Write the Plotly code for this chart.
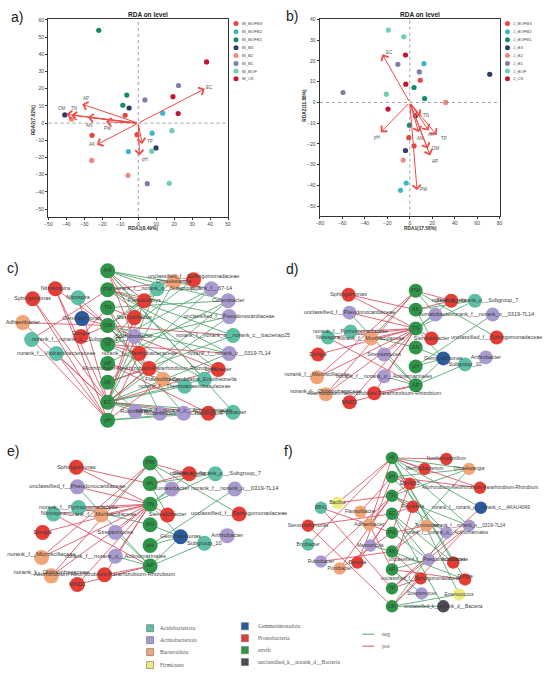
import plotly.graph_objects as go

W, H = 550, 680

# ---------------- RDA data ----------------
groups = ["BOFB3", "BOFB2", "BOFB1", "B3", "B2", "B1", "BOF", "CK"]
group_colors = ["#e8463e", "#3cb6c9", "#138a6d", "#2d3a6a", "#f08a80", "#7d80a8", "#6dcfb1", "#c3162c"]

# panel a (M_ samples)
a_group = ["BOFB3", "BOFB3", "BOFB3", "BOFB2", "BOFB2", "BOFB2", "BOFB1", "BOFB1", "BOFB1",
           "B3", "B3", "B3", "B2", "B2", "B2", "B1", "B1", "B1", "BOF", "BOF", "BOF", "CK", "CK", "CK"]
a_x = [-7.3, -0.7, -25.7, 13.6, 7.7, -5.5, -22.0, -6.4, -8.6,
       -5.1, -40.9, 9.9, -37.2, -25.9, -5.7, 22.4, 3.7, 5.0, 18.7, 7.5, 17.2, 38.0, 19.3, 22.2]
a_y = [4.6, -6.7, -7.1, 5.8, -5.8, -16.5, 54.0, 16.3, 10.4,
       8.8, 4.8, -14.4, 2.3, -21.7, -30.4, 21.9, 13.5, -35.2, -4.4, -16.3, -35.0, 35.6, 15.4, 5.6]
a_env = ["EC", "AP", "OM", "TN", "AN", "PW", "AK", "TP", "pH"]
a_env_x = [37.0, -31.2, -40.0, -37.2, -28.0, -18.0, -23.0, 2.2, 0.7]
a_env_y = [20.0, 11.0, 5.2, 4.6, 3.3, 0.8, -12.5, -12.1, -18.8]

# panel b (J_ samples)
b_group = ["BOFB3", "BOFB3", "BOFB3", "BOFB2", "BOFB2", "BOFB2", "BOFB1", "BOFB1", "BOFB1",
           "B3", "B3", "B3", "B2", "B2", "B1", "B1", "B1", "BOF", "BOF", "BOF", "CK", "CK", "CK"]
b_x = [9.4, -0.9, 3.8, 12.6, -3.2, -8.2, 3.8, 13.2, -0.3,
       71.2, 5.0, -3.8, 32.0, -5.9, -10.6, 8.5, -59.4, -19.1, -5.3, -20.9, -3.8, -3.5, -19.4]
b_y = [10.7, -17.0, -21.0, 18.7, -38.9, -42.4, 7.2, 1.9, -11.0,
       13.6, -6.4, -23.2, 0.0, -27.8, 18.4, 14.7, 4.8, 34.9, 31.7, 4.0, 22.9, 8.8, -3.2]
b_env = ["EC", "pH", "TN", "AN", "AK", "TP", "OM", "AP", "PW"]
b_env_x = [-24.4, -25.9, 9.4, 8.0, 16.8, 24.0, 15.9, 18.2, 6.5]
b_env_y = [23.2, -14.4, -6.7, -14.4, -13.6, -15.7, -22.4, -25.6, -42.4]

# label nudges for arrow names (pixels)
a_shift = {"EC": (5, 1), "AP": (4, 6), "OM": (-4, 6), "TN": (3, 7), "AN": (1, -8),
           "PW": (2, -7), "AK": (-5, 0), "TP": (8, 2), "pH": (5, -4)}
b_shift = {"EC": (7, 2), "pH": (-4, -5), "TN": (6, 1), "AN": (1, -6), "AK": (2, -4),
           "TP": (7, -4), "OM": (8, 0), "AP": (5, -6), "PW": (7, 1)}

# ---------------- network data ----------------
phyla = ["Acidobacteriota", "Actinobacteriota", "Bacteroidota", "Firmicutes",
         "Gemmatimonadota", "Proteobacteria", "envfit", "unclassified_k__norank_d__Bacteria"]
phyla_colors = ["#5dbfa5", "#a899cf", "#f2a477", "#efeb7e", "#2b5a9e", "#e43d35", "#2f9548", "#4b4b55"]
P = dict(zip(["Aci", "Act", "Bac", "Fir", "Gem", "Pro", "env", "unc"], phyla_colors))

# network c
c_names = ["AN", "PW", "TN", "OM", "TP", "AP", "AK", "EC", "pH",
           "Nitrosospira", "Sphingomonas", "Nitrospira", "Gemmatimonas", "Adhaeribacter", "Dongia",
           "norank_f__norank_o__Subgroup_17", "norank_f__Vicinamibacteraceae",
           "norank_f__norank_o__Subgroup_7", "Ohtaekwangia", "unclassified_f__Sphingomonadaceae",
           "norank_f__67-14", "Pseudolabrys", "Conexibacter", "Steroidobacter",
           "unclassified_f__Pseudonocardiaceae", "Solirubrobacter",
           "norank_f__norank_o__norank_c__bacteriap25", "norank_f__Xanthobacteraceae",
           "norank_f__norank_o__0319-7L14", "Allorhizobium-Neorhizobium-Pararhizobium-Rhizobium",
           "Lysobacter", "Flavisolibacter", "Candidatus_Entotheonella", "norank_f__Thermoanaerobaculaceae",
           "Rubrobacter", "Nocardioides", "norank_f__norank_o__Actinomarinales", "Haliangium", "Bryobacter"]
c_phylum = ["env"] * 9 + ["Pro", "Pro", "Aci", "Gem", "Bac", "Pro", "Aci", "Aci",
                          "Aci", "Bac", "Pro", "Act", "Pro", "Act", "Pro", "Act", "Act", "Aci", "Pro",
                          "Act", "Pro", "Pro", "Bac", "Aci", "Aci", "Act", "Act", "Act", "Pro", "Aci"]
c_x = [105] * 9 + [52, 29, 75, 79, 19, 78, 28, 53,
                   155, 172, 192, 210, 142, 227, 132, 228, 132, 232, 137, 228, 147, 217, 161, 203,
                   183, 133, 158, 182, 207, 232]
c_y = [269, 288, 306, 324, 343, 362, 381, 401, 419,
       287, 297, 296, 317, 321, 335, 338, 352,
       287, 280, 278, 287, 299, 299, 316, 315, 335, 334, 352, 352, 367, 368, 378, 378,
       385, 410, 412, 412, 412, 411]
c_edges = [
    (10, 7, 1), (10, 8, 1), (9, 3, 1), (9, 7, 1), (11, 3, 1), (13, 3, 1), (15, 1, 1), (15, 8, 1),
    (12, 3, 1), (14, 3, 1), (14, 2, 1), (16, 7, 1), (16, 8, 1), (11, 7, 1), (13, 7, 1), (9, 8, 1),
    (0, 20, -1), (0, 22, -1), (0, 32, -1), (0, 38, -1), (0, 21, 1), (0, 23, 1), (0, 27, 1), (0, 17, -1),
    (1, 24, -1), (1, 30, -1), (1, 26, -1), (1, 19, 1), (1, 21, 1), (1, 28, -1),
    (2, 22, -1), (2, 23, 1), (2, 29, 1), (2, 35, -1),
    (3, 18, -1), (3, 32, -1), (3, 28, -1), (3, 26, 1), (3, 30, 1), (3, 29, 1), (3, 17, -1), (3, 36, -1),
    (4, 17, -1), (4, 20, -1), (4, 19, -1), (4, 24, -1), (4, 28, 1), (4, 27, 1), (4, 33, -1),
    (5, 22, -1), (5, 31, 1), (5, 37, 1),
    (6, 26, -1), (6, 20, -1), (6, 29, 1), (6, 34, -1),
    (7, 17, -1), (7, 18, -1), (7, 22, -1), (7, 24, -1), (7, 28, -1), (7, 33, -1), (7, 38, -1),
    (7, 35, -1), (7, 21, 1), (7, 23, 1), (7, 29, 1), (7, 30, 1), (7, 37, 1), (7, 32, -1),
    (7, 36, -1), (7, 34, -1),
    (8, 37, -1), (8, 36, -1), (8, 27, 1), (8, 31, 1),
]
c_label_pos = {"Dongia": "top center", "unclassified_f__Sphingomonadaceae": "top center",
               "norank_f__norank_o__Actinomarinales": "top center",
               "norank_f__norank_o__Subgroup_17": "middle right"}

# network d / e (same network, drawn twice)
d_names = ["PW", "AK", "TN", "AN", "pH", "AP",
           "Sphingomonas", "unclassified_f__Pseudonocardiaceae", "norank_f__Pyrinomonadaceae",
           "Nitrospira", "norank_f__Muribaculaceae", "Dongia", "Streptomyces",
           "norank_f__Microscillaceae", "norank_f__norank_o__Actinomarinales",
           "norank_f__Chitinophagaceae", "Allorhizobium-Neorhizobium-Pararhizobium-Rhizobium", "MND1",
           "Skermanella", "norank_f__norank_o__Subgroup_7", "Ilumatobacter",
           "norank_f__norank_o__0319-7L14", "Steroidobacter", "unclassified_f__Sphingomonadaceae",
           "Gemmatimonas", "Arthrobacter", "Subgroup_10"]
d_phylum = ["env"] * 6 + ["Pro", "Act", "Aci", "Aci", "Bac", "Pro", "Act", "Bac", "Act", "Bac",
                          "Pro", "Pro", "Pro", "Aci", "Act", "Act", "Pro", "Pro", "Gem", "Act", "Aci"]
d_x = [417] * 6 + [349, 350, 351, 328, 372, 318, 385, 317, 385, 326, 375, 350,
                   453, 477, 437, 495, 433, 499, 445, 488, 467]
d_y = [289, 308, 327, 346, 365, 384,
       293, 311, 330, 336, 337, 353, 353, 376, 375, 393, 392, 401,
       299, 299, 313, 313, 337, 336, 357, 356, 363]
d_edges = [
    (6, 2, 1), (6, 1, 1), (7, 2, 1), (8, 2, 1), (9, 2, 1), (9, 5, 1), (10, 2, 1), (11, 2, 1),
    (12, 2, 1), (13, 0, 1), (13, 2, 1), (15, 0, 1), (15, 2, 1), (16, 2, 1), (16, 5, 1), (17, 5, 1),
    (17, 2, 1), (14, 2, 1),
    (7, 5, -1), (10, 0, -1), (12, 5, -1), (14, 5, -1), (8, 3, -1),
    (0, 23, -1), (1, 19, -1), (2, 18, -1), (2, 19, -1), (2, 20, -1), (2, 22, 1), (0, 20, -1),
    (1, 22, -1), (4, 21, -1), (2, 24, -1), (3, 24, -1), (4, 24, -1), (5, 24, -1), (5, 26, -1),
    (1, 18, 1), (0, 18, 1),
]
d_label_pos = {"norank_f__Microscillaceae": "top center", "norank_f__Chitinophagaceae": "top center"}

# network f
f_names = ["AK", "pH", "TN", "EC", "PW", "AN", "AP", "TP", "OM",
           "Noviherbaspirillum", "Methylobacterium", "Ohtaekwangia", "Ellin6055",
           "Allorhizobium-Neorhizobium-Pararhizobium-Rhizobium", "Reyranella",
           "norank_f__norank_o__norank_c__AKAU4049", "Terrimonas", "norank_f__norank_o__0319-7L14",
           "norank_f__norank_o__Actinomarinales", "unclassified_f__Pseudonocardiaceae", "Acidibacter",
           "unclassified_f__Sphingomonadaceae", "Dongia", "Streptomyces", "Enterococcus",
           "unclassified_k__norank_d__Bacteria",
           "Bacillus", "RB41", "Flavisolibacter", "Stenotrophomonas", "Adhaeribacter", "Bryobacter",
           "Marmoricola", "Rubrobacter", "Devosia", "Pontibacter"]
f_phylum = ["env"] * 9 + ["Pro", "Pro", "Bac", "Pro", "Pro", "Pro", "Gem", "Bac", "Act", "Act",
                          "Act", "Pro", "Pro", "Pro", "Act", "Fir", "unc",
                          "Fir", "Aci", "Bac", "Pro", "Bac", "Aci", "Act", "Act", "Pro", "Bac"]
f_x = [393] * 9 + [448, 426, 471, 411, 482, 414, 483, 428, 471, 448, 430, 455, 422, 467, 423, 461, 445,
                   338, 321, 361, 308, 370, 308, 371, 321, 358, 340]
f_y = [457, 476, 495, 513, 532, 551, 569, 588, 606,
       458, 468, 468, 483, 487, 506, 507, 525, 525, 532, 559, 562, 578, 579, 593, 594, 606,
       502, 507, 511, 525, 524, 544, 545, 561, 562, 568]
f_edges = [
    (31, 0, 1), (33, 2, 1), (29, 8, 1), (26, 2, 1), (27, 4, 1), (28, 1, 1), (30, 0, 1), (30, 2, 1),
    (30, 6, 1), (32, 3, 1), (34, 3, 1), (34, 1, 1), (35, 2, 1), (35, 4, 1), (33, 5, 1), (26, 0, 1),
    (32, 5, -1), (29, 3, 1), (27, 7, 1),
    (0, 9, 1), (0, 10, 1), (0, 13, 1), (0, 11, -1), (0, 15, -1), (0, 17, -1), (0, 22, -1),
    (0, 24, -1), (0, 20, -1),
    (1, 11, -1), (1, 12, 1), (1, 13, 1), (1, 18, -1),
    (2, 14, 1), (2, 12, 1), (2, 17, -1), (2, 18, -1), (2, 11, -1),
    (3, 14, 1), (3, 20, -1), (3, 25, -1), (3, 19, -1),
    (4, 16, 1), (4, 19, -1), (4, 12, 1),
    (5, 11, -1), (5, 21, 1), (5, 16, 1), (5, 22, -1),
    (6, 23, -1), (6, 22, 1), (6, 14, 1), (6, 19, -1),
    (7, 15, 1), (7, 21, 1), (7, 17, 1),
    (8, 17, 1), (8, 24, -1), (8, 25, -1), (8, 18, -1), (8, 21, 1),
]
f_label_pos = {"Acidibacter": "top center", "Dongia": "top center"}

edge_names = ["neg", "pos"]
edge_colors = ["#3d9a5b", "#d83c52"]

# ---------------- figure ----------------
fig = go.Figure()
layout = {}
annotations = []
shapes = []


def dom(px0, px1, py0, py1):
    return [px0 / W, px1 / W], [1 - py1 / H, 1 - py0 / H]


axis_style = dict(showline=True, linecolor="#333", linewidth=0.8, mirror=True, ticks="outside",
                  ticklen=2.5, tickwidth=0.7, tickcolor="#333", showgrid=False, zeroline=False,
                  tickfont=dict(size=5, color="#444"), fixedrange=True)


def rda_panel(n, box, xr, xt, yr, yt, grp, xs, ys, env, ex, ey, shift, prefix, xlab, ylab,
              title_x, xlab_x, ylab_x, ylab_y, leg_x):
    xd, yd = dom(*box)
    sfx = "" if n == 1 else str(n)
    layout["xaxis" + sfx] = dict(axis_style, domain=xd, range=xr, tickvals=xt, anchor="y" + sfx)
    layout["yaxis" + sfx] = dict(axis_style, domain=yd, range=yr, tickvals=yt, anchor="x" + sfx)
    xa, ya = "x" + sfx, "y" + sfx
    # dotted zero lines
    shapes.append(dict(type="line", xref=xa, yref=ya + " domain", x0=0, x1=0, y0=0, y1=1,
                       line=dict(color="#777", width=0.7, dash="dot")))
    shapes.append(dict(type="line", xref=xa + " domain", yref=ya, x0=0, x1=1, y0=0, y1=0,
                       line=dict(color="#777", width=0.7, dash="dot")))
    # env arrows
    for nm, tx, ty in zip(env, ex, ey):
        annotations.append(dict(x=tx, y=ty, ax=0, ay=0, xref=xa, yref=ya, axref=xa, ayref=ya,
                                showarrow=True, arrowhead=4, arrowsize=1.6, arrowwidth=1.0,
                                arrowcolor="#ef4a46", text=""))
        dx, dy = shift[nm]
        annotations.append(dict(x=tx, y=ty, xref=xa, yref=ya, text=nm, showarrow=False,
                                xanchor="center", yanchor="middle",
                                xshift=dx, yshift=dy, font=dict(size=4.5, color="#555")))
    # sample points
    for g, col in zip(groups, group_colors):
        px = [x for x, gg in zip(xs, grp) if gg == g]
        py = [y for y, gg in zip(ys, grp) if gg == g]
        fig.add_trace(go.Scatter(x=px, y=py, mode="markers", xaxis=xa, yaxis=ya,
                                 marker=dict(size=5.2, color=col, line=dict(width=0)),
                                 hoverinfo="skip"))
    annotations.append(dict(x=title_x, y=12, xref="x7", yref="y7", xanchor="center", yanchor="middle",
                            text="<b>RDA on level</b>", showarrow=False,
                            font=dict(size=6.5, color="#222")))
    annotations.append(dict(x=xlab_x, y=226, xref="x7", yref="y7", xanchor="center", yanchor="middle",
                            text="<b>" + xlab + "</b>", showarrow=False,
                            font=dict(size=4.8, color="#333")))
    annotations.append(dict(x=ylab_x, y=ylab_y, xref="x7", yref="y7", xanchor="center", yanchor="middle",
                            text="<b>" + ylab + "</b>", showarrow=False, textangle=-90,
                            font=dict(size=4.8, color="#333")))
    # legend
    leg_y = [20.7, 29, 37, 45, 52.7, 60.7, 68.3, 76]
    fig.add_trace(go.Scatter(x=[leg_x] * len(groups), y=leg_y, mode="markers", xaxis="x7", yaxis="y7",
                             marker=dict(size=5, color=group_colors), hoverinfo="skip",
                             cliponaxis=False))
    for g, yy in zip(groups, leg_y):
        annotations.append(dict(x=leg_x + 4, y=yy, xref="x7", yref="y7", text=prefix + g,
                                showarrow=False, xanchor="left", yanchor="middle",
                                font=dict(size=4.3, color="#444")))


rda_panel(1, (45, 227, 16, 215), [-50, 50], list(range(-50, 51, 10)), [-54.6, 60.6],
          list(range(-50, 61, 10)), a_group, a_x, a_y, a_env, a_env_x, a_env_y, a_shift, "M_",
          "RDA1(8.49%)", "RDA2(7.62%)", 146, 141, 30, 118, 235)
rda_panel(2, (320, 502, 16, 213.5), [-80, 80], list(range(-80, 81, 20)), [-54.6, 40.3],
          list(range(-50, 41, 10)), b_group, b_x, b_y, b_env, b_env_x, b_env_y, b_shift, "J_",
          "RDA1(17.58%)", "RDA2(11.88%)", 421, 422, 304, 103, 510)


def network(n, px_box, loc_box, names, phylum, xs, ys, edges, label_pos, node_size, font_size):
    xd = [px_box[0] / W, px_box[1] / W]
    yd = [1 - px_box[3] / H, 1 - px_box[2] / H]
    layout["xaxis%d" % n] = dict(domain=xd, range=[loc_box[0], loc_box[1]], visible=False,
                                 anchor="y%d" % n, fixedrange=True)
    layout["yaxis%d" % n] = dict(domain=yd, range=[loc_box[3], loc_box[2]], visible=False,
                                 anchor="x%d" % n, fixedrange=True)
    xa, ya = "x%d" % n, "y%d" % n
    for sign, col in zip([-1, 1], edge_colors):
        ex, ey = [], []
        for i, j, s in edges:
            if s == sign:
                ex += [xs[i], xs[j], None]
                ey += [ys[i], ys[j], None]
        fig.add_trace(go.Scatter(x=ex, y=ey, mode="lines", xaxis=xa, yaxis=ya,
                                 line=dict(color=col, width=0.85), opacity=0.9, hoverinfo="skip"))
    fig.add_trace(go.Scatter(x=xs, y=ys, mode="markers", xaxis=xa, yaxis=ya, cliponaxis=False,
                             marker=dict(size=node_size, color=[P[p] for p in phylum], line=dict(width=0)),
                             hoverinfo="skip"))
    fig.add_trace(go.Scatter(x=xs, y=ys, mode="text", xaxis=xa, yaxis=ya, cliponaxis=False, text=names,
                             textposition=[label_pos.get(nm, "middle center") for nm in names],
                             textfont=dict(size=font_size, color="#3a3a3a"), hoverinfo="skip"))


network(3, (0, 275, 248, 425), (0, 275, 248, 425), c_names, c_phylum, c_x, c_y, c_edges, c_label_pos, 15, 5.5)
network(4, (283, 535, 255, 420), (283, 535, 255, 420), d_names, d_phylum, d_x, d_y, d_edges, d_label_pos, 14, 5.5)
# panel e reuses the d layout, drawn larger further down the page
e_sx, e_sy, e_ox, e_oy = 1.1, 1.09, 148, 462
e_box = (e_ox + (283 - 417) * e_sx, e_ox + (535 - 417) * e_sx, e_oy + (255 - 289) * e_sy, e_oy + (420 - 289) * e_sy)
network(5, e_box, (283, 535, 255, 420), d_names, d_phylum, d_x, d_y, d_edges, d_label_pos, 15, 5.8)
network(6, (280, 550, 428, 615), (280, 550, 428, 615), f_names, f_phylum, f_x, f_y, f_edges, f_label_pos, 12.5, 4.8)

# overlay axes in page pixels for legends, titles and panel letters
layout["xaxis7"] = dict(domain=[0, 1], range=[0, W], visible=False, anchor="y7", fixedrange=True)
layout["yaxis7"] = dict(domain=[0, 1], range=[H, 0], visible=False, anchor="x7", fixedrange=True)

for lab, lx, ly in zip(["a)", "b)", "c)", "d)", "e)", "f)"], [13, 292, 9, 292, 9, 288], [14, 13, 266, 267, 450, 450]):
    annotations.append(dict(x=lx, y=ly, xref="x7", yref="y7", text=lab, showarrow=False,
                            xanchor="center", yanchor="middle", font=dict(size=14, color="#222")))

# bottom legend
leg1_y = [628, 640, 652, 665]
leg2_y = [626, 638, 650, 662]
fig.add_trace(go.Scatter(x=[148] * 4 + [244] * 4, y=leg1_y + leg2_y, mode="markers", xaxis="x7", yaxis="y7",
                         marker=dict(symbol="square", size=7, color=phyla_colors, line=dict(width=0.6, color="#666")),
                         hoverinfo="skip"))
for i, ph in enumerate(phyla):
    lx = 156 if i < 4 else 255
    ly = (leg1_y + leg2_y)[i]
    annotations.append(dict(x=lx, y=ly, xref="x7", yref="y7", text=ph, showarrow=False,
                            xanchor="left", yanchor="middle",
                            font=dict(size=5.5, color="#555", family="Liberation Serif, serif")))
for nm, col, ly in zip(edge_names, edge_colors, [634, 646]):
    fig.add_trace(go.Scatter(x=[363, 375], y=[ly, ly], mode="lines", xaxis="x7", yaxis="y7",
                             line=dict(color=col, width=0.9), hoverinfo="skip"))
    annotations.append(dict(x=381, y=ly, xref="x7", yref="y7", text=nm, showarrow=False,
                            xanchor="left", yanchor="middle",
                            font=dict(size=5.5, color="#555", family="Liberation Serif, serif")))

fig.update_layout(**layout)
fig.update_layout(width=W, height=H, margin=dict(l=0, r=0, t=0, b=0), showlegend=False,
                  plot_bgcolor="rgba(0,0,0,0)", paper_bgcolor="white",
                  font=dict(family="Arial, Liberation Sans, sans-serif"),
                  annotations=annotations, shapes=shapes)
# drop the browser's default page margin so the figure sits at the window's corner
fig.write_html("out.html", config={"displayModeBar": False},
               post_script="document.body.style.margin='0px';")
